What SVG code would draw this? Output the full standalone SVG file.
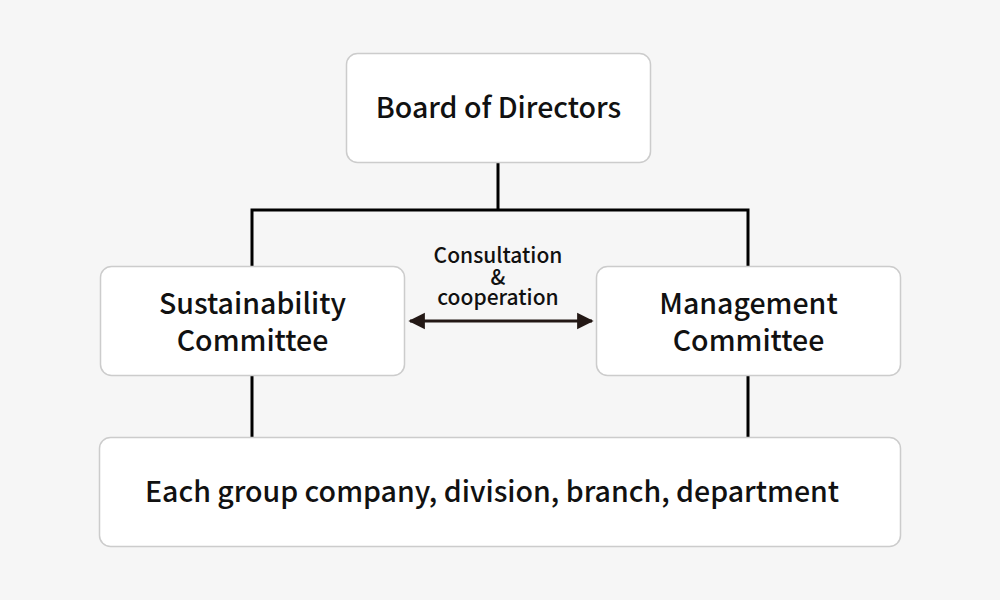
<svg xmlns="http://www.w3.org/2000/svg" width="1000" height="600" viewBox="0 0 1000 600">
<defs>
<style>
.box{fill:#ffffff;stroke:#cccccc;stroke-width:1.5}
.t{font-family:"Noto Sans CJK JP","Noto Sans",sans-serif;font-size:28.5px;font-weight:500;fill:#111111;text-anchor:middle}
.lbl{font-family:"Noto Sans CJK JP","Noto Sans",sans-serif;font-size:21px;font-weight:500;fill:#111111;text-anchor:middle}
.ln{fill:none;stroke:#000000;stroke-width:3}
</style>
<marker id="ah" viewBox="0 0 10 10" refX="9" refY="5" markerWidth="5.5" markerHeight="7" markerUnits="strokeWidth" orient="auto-start-reverse">
<path d="M0,0 L10,5 L0,10 Z" fill="#231815"/>
</marker>
</defs>
<rect width="1000" height="600" fill="#f6f6f6"/>
<g id="connectors">
<path class="ln" d="M498,163 V210 M252,210 H748 M252,208.5 V266 M748,208.5 V266 M252,375 V437 M748,375 V437"/>
<line x1="410" y1="321" x2="592" y2="321" stroke="#231815" stroke-width="3" marker-start="url(#ah)" marker-end="url(#ah)"/>
<text class="lbl" x="498" y="263">Consultation</text>
<text class="lbl" x="498" y="284.5">&amp;</text>
<text class="lbl" x="498" y="305">cooperation</text>
</g>
<g id="board">
<rect class="box" x="346.5" y="53.5" width="304" height="109" rx="11"/>
<text class="t" x="498.5" y="118">Board of Directors</text>
</g>
<g id="sustainability">
<rect class="box" x="100.5" y="266.5" width="304" height="109" rx="11"/>
<text class="t" x="252.5" y="314">Sustainability</text>
<text class="t" x="252.5" y="351">Committee</text>
</g>
<g id="management">
<rect class="box" x="596.5" y="266.5" width="304" height="109" rx="11"/>
<text class="t" x="748.5" y="314">Management</text>
<text class="t" x="748.5" y="351">Committee</text>
</g>
<g id="group">
<rect class="box" x="99.5" y="437.5" width="801" height="109" rx="11"/>
<text class="t" x="492" y="502">Each group company, division, branch, department</text>
</g>
</svg>
